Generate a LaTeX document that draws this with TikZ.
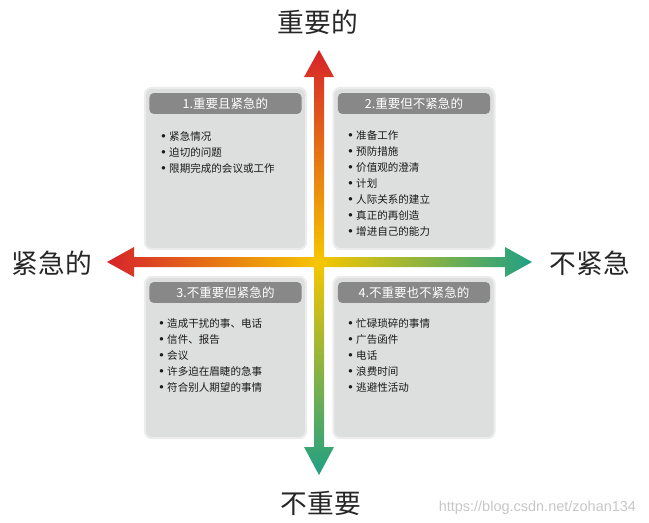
\documentclass[tikz,border=0pt]{standalone}
\usepackage{fontspec}
\usepackage{tikz}
\usetikzlibrary{positioning}
\newfontfamily\cjk{Noto Sans CJK SC}
\newfontfamily\wmfont{Liberation Sans}
\newcommand\bul{{\wmfont\fontsize{9}{10}\selectfont •}\hspace{2.5pt}}
\definecolor{axred}{RGB}{214,35,42}
\definecolor{axyellow}{RGB}{246,198,0}
\definecolor{axgreen}{RGB}{32,160,132}
\definecolor{boxfill}{RGB}{221,222,222}
\definecolor{boxrim}{RGB}{236,236,236}
\definecolor{headfill}{RGB}{136,136,136}

\begin{document}
\begin{tikzpicture}[x=0.025cm, y=-0.025cm,
  quad/.style={fill=boxfill, draw=boxrim, line width=1.5pt, rounded corners=5pt, minimum width=4.03cm, minimum height=4.03cm, outer sep=0pt},
  head/.style={fill=headfill, rounded corners=3pt, text=white, font=\cjk\fontsize{8.9}{10}\selectfont, minimum width=3.8cm, minimum height=0.52cm, inner sep=0pt, outer sep=0pt},
  items/.style={anchor=north west, align=left, inner sep=0pt, font=\cjk\fontsize{7.5}{11.4}\selectfont, text=black!90},
  axis label/.style={font=\cjk\fontsize{19}{22}\selectfont, text=black!85}]
\useasboundingbox (0,0) rectangle (649,522);

\node[quad] (q1) at (225.5,168.5) {};
\node[quad] (q2) at (414,168.5) {};
\node[quad] (q3) at (225.5,357.5) {};
\node[quad] (q4) at (414,357.5) {};

\node[head, below=0.13cm of q1.north] (h1) {1.重要且紧急的};
\node[head, below=0.13cm of q2.north] (h2) {2.重要但不紧急的};
\node[head, below=0.13cm of q3.north] (h3) {3.不重要但紧急的};
\node[head, below=0.13cm of q4.north] (h4) {4.不重要也不紧急的};

\node[items] (l1) at (161,131) {\bul 紧急情况\\\bul 迫切的问题\\\bul 限期完成的会议或工作};
\node[items] (l2) at (348,130) {\bul 准备工作\\\bul 预防措施\\\bul 价值观的澄清\\\bul 计划\\\bul 人际关系的建立\\\bul 真正的再创造\\\bul 增进自己的能力};
\node[items] (l3) at (159,318) {\bul 造成干扰的事、电话\\\bul 信件、报告\\\bul 会议\\\bul 许多迫在眉睫的急事\\\bul 符合别人期望的事情};
\node[items] (l4) at (348,318) {\bul 忙碌琐碎的事情\\\bul 广告函件\\\bul 电话\\\bul 浪费时间\\\bul 逃避性活动};

\shade[left color=axred, right color=axgreen, middle color=axyellow]
  (107,262) -- (134,247) -- (134,257) -- (505,257) -- (505,247) -- (532,262)
  -- (505,277) -- (505,267) -- (134,267) -- (134,277) -- cycle;
\shade[top color=axred, bottom color=axgreen, middle color=axyellow]
  (319,50) -- (334,77) -- (324,77) -- (324,447) -- (334,447) -- (319,475)
  -- (304,447) -- (314,447) -- (314,77) -- (304,77) -- cycle;

\node[axis label] (imp) at (318,22) {重要的};
\node[axis label] (urg) at (52,263) {紧急的};
\node[axis label] (nurg) at (590,263) {不紧急};
\node[axis label] (nimp) at (321,503) {不重要};
\node[font=\wmfont\fontsize{10.3}{12}\selectfont, text=black!22, anchor=east] (wm) at (641,508) {https://blog.csdn.net/zohan134};
\end{tikzpicture}
\end{document}
